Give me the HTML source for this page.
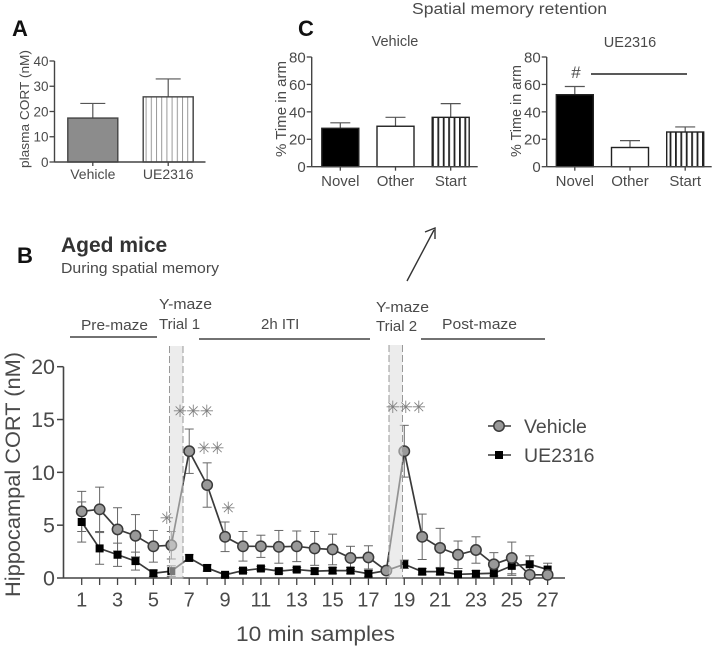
<!DOCTYPE html>
<html lang="en">
<head>
<meta charset="utf-8">
<title>Hippocampal CORT chart</title>
<style>
html,body{margin:0;padding:0;background:#fff;width:714px;height:649px;overflow:hidden}
svg{display:block}
text{font-family:"Liberation Sans",sans-serif;fill:#4a4a4a}
.panel{font-weight:bold;fill:#111;font-size:22px}
.star{font-family:"DejaVu Sans",sans-serif;font-size:17px;fill:#808080;text-anchor:middle;dominant-baseline:central}
</style>
</head>
<body>
<svg id="fig" width="714" height="649" viewBox="0 0 714 649" xmlns="http://www.w3.org/2000/svg">
  <defs>
    <pattern id="hatch-light" width="5.2" height="10" patternUnits="userSpaceOnUse"><rect x="0" y="0" width="1" height="10" fill="#999"/></pattern>
    <pattern id="hatch-dark" width="5.4" height="10" patternUnits="userSpaceOnUse"><rect x="0" y="0" width="1.8" height="10" fill="#222"/></pattern>
  </defs>

  <text class="panel" x="12" y="36">A</text>
  <text class="panel" x="298" y="36">C</text>
  <text class="panel" x="17" y="263">B</text>

  <text transform="translate(29,168) rotate(-90)" font-size="13" textLength="118" lengthAdjust="spacingAndGlyphs">plasma CORT (nM)</text>
  <text x="412" y="14" font-size="15.5" textLength="195" lengthAdjust="spacingAndGlyphs">Spatial memory retention</text>
  <text x="395" y="46" font-size="14.5" text-anchor="middle">Vehicle</text>
  <text x="630" y="47" font-size="14.5" text-anchor="middle">UE2316</text>
  <text transform="translate(286,157) rotate(-90)" font-size="15" textLength="96" lengthAdjust="spacingAndGlyphs">% Time in arm</text>
  <text transform="translate(521,157) rotate(-90)" font-size="15" textLength="92" lengthAdjust="spacingAndGlyphs">% Time in arm</text>
  <text x="576" y="78" font-size="17" text-anchor="middle">#</text>
  <line x1="591" y1="74" x2="687" y2="74" stroke="#222" stroke-width="1.4"/>

  <line x1="407" y1="281" x2="434" y2="230" stroke="#333" stroke-width="1.4"/>
  <polyline points="425,232 435,228 435,239" fill="none" stroke="#333" stroke-width="1.4"/>

  <text x="61" y="252" font-size="21" font-weight="bold" style="fill:#333">Aged mice</text>
  <text x="61" y="273" font-size="14.5" textLength="158" lengthAdjust="spacingAndGlyphs">During spatial memory</text>

  <text x="81" y="330" font-size="15" textLength="67" lengthAdjust="spacingAndGlyphs">Pre-maze</text>
  <line x1="70" y1="337" x2="157" y2="337" stroke="#444" stroke-width="1.4"/>
  <text x="159" y="309" font-size="15" textLength="53" lengthAdjust="spacingAndGlyphs">Y-maze</text>
  <text x="159" y="329" font-size="15">Trial 1</text>
  <text x="261" y="329" font-size="15">2h ITI</text>
  <line x1="199" y1="339" x2="370" y2="339" stroke="#444" stroke-width="1.4"/>
  <text x="376" y="312" font-size="15" textLength="53" lengthAdjust="spacingAndGlyphs">Y-maze</text>
  <text x="376" y="331" font-size="15">Trial 2</text>
  <text x="442" y="329" font-size="15" textLength="75" lengthAdjust="spacingAndGlyphs">Post-maze</text>
  <line x1="421" y1="339" x2="545" y2="339" stroke="#444" stroke-width="1.4"/>

  <text transform="translate(20,597) rotate(-90)" font-size="21" textLength="245" lengthAdjust="spacingAndGlyphs">Hippocampal CORT (nM)</text>
  <text x="236" y="641" font-size="21" textLength="159" lengthAdjust="spacingAndGlyphs">10 min samples</text>

  <g id="panelA"></g>
  <g id="panelC1"></g>
  <g id="panelC2"></g>
  <g id="panelB"></g>

  <g>
    <line x1="488" y1="426" x2="511" y2="426" stroke="#3a3a3a" stroke-width="1.6"/>
    <circle cx="499" cy="426" r="5.2" fill="#999" stroke="#3a3a3a" stroke-width="1.5"/>
    <text x="524" y="433" font-size="19.5">Vehicle</text>
    <line x1="488" y1="455" x2="511" y2="455" stroke="#3a3a3a" stroke-width="1.6"/>
    <rect x="495" y="451" width="8" height="8" fill="#000"/>
    <text x="524" y="462" font-size="19.5">UE2316</text>
  </g>

  <text class="star" x="180" y="412">✳</text>
  <text class="star" x="193.3" y="412">✳</text>
  <text class="star" x="206.7" y="412">✳</text>
  <text class="star" x="204" y="449">✳</text>
  <text class="star" x="217.3" y="449">✳</text>
  <text class="star" x="228.3" y="509">✳</text>
  <text class="star" x="166.7" y="519">✳</text>
  <text class="star" x="392.7" y="408">✳</text>
  <text class="star" x="405.7" y="408">✳</text>
  <text class="star" x="418.7" y="408">✳</text>
</svg>
<script>
// Panel A data
const plasmaGroups = ['Vehicle', 'UE2316'];
const plasmaMeans = [17.4, 25.8];
const plasmaErrors = [5.8, 7.1];
const plasmaTicks = [0, 10, 20, 30, 40];

// Panel C data
const armCategories = ['Novel', 'Other', 'Start'];
const vehicleArmMeans = [28, 29.5, 36];
const vehicleArmErrors = [4, 6.5, 10];
const ue2316ArmMeans = [52.5, 14, 25.3];
const ue2316ArmErrors = [6, 5, 3.7];
const armTicks = [0, 20, 40, 60, 80];

// Panel B data
const samples = [1,2,3,4,5,6,7,8,9,10,11,12,13,14,15,16,17,18,19,20,21,22,23,24,25,26,27];
const vehicleCort = [6.3,6.5,4.6,4.0,3.0,3.1,12,8.8,3.9,3.0,3.0,2.95,3.0,2.8,2.7,1.9,1.95,0.7,12,3.9,2.85,2.2,2.65,1.3,1.9,0.3,0.3];
const vehicleSem = [1.9,2.1,2.05,2.0,1.5,1.3,2.1,2.1,1.4,1.4,1.05,1.55,1.45,1.6,1.45,1.1,1.1,0.3,2.45,2.15,1.85,1.3,1.25,1.1,1.5,0.2,0.25];
const ue2316Cort = [5.3,2.8,2.2,1.6,0.45,0.65,1.9,0.95,0.3,0.7,0.9,0.65,0.8,0.65,0.7,0.7,0.4,0.7,1.3,0.6,0.6,0.35,0.4,0.45,1.15,1.3,0.8];
const ue2316Sem = [1.9,1.5,1.1,0.85,0.3,0.5,0.3,0.3,0.2,0.2,0.2,0.2,0.2,0.3,0.3,0.3,0.3,0.2,0.4,0.3,0.3,0.3,0.3,0.4,0.9,0.8,0.6];
const cortTicks = [0, 5, 10, 15, 20];
const sampleTickLabels = [1,3,5,7,9,11,13,15,17,19,21,23,25,27];

const NS = 'http://www.w3.org/2000/svg';
function make(parent, tag, attrs, txt) {
  const el = document.createElementNS(NS, tag);
  for (const k in attrs) el.setAttribute(k, attrs[k]);
  if (txt !== undefined) el.textContent = txt;
  parent.appendChild(el);
  return el;
}
function label(el, name, active) {
  
  
  return el;
}

function barChart(g, cfg) {
  const y = v => cfg.y0 - (v / cfg.max) * (cfg.y0 - cfg.yTop);
  const barW = cfg.barW;
  cfg.ticks.forEach(t => {
    label(make(g, 'line', {x1: cfg.ax - 5, x2: cfg.ax, y1: y(t), y2: y(t), stroke: '#444', 'stroke-width': 1.3}), 'y-tick', false);
    label(make(g, 'text', {x: cfg.ax - 6, y: y(t) + cfg.font * 0.36, 'font-size': cfg.font, 'text-anchor': 'end'}, t), 'y-tick-label', false);
  });
  cfg.cats.forEach((c, i) => {
    const cx = cfg.first + i * cfg.step;
    const top = y(cfg.vals[i]), errTop = y(cfg.vals[i] + cfg.errs[i]);
    label(make(g, 'line', {x1: cx, x2: cx, y1: top, y2: errTop, stroke: '#555', 'stroke-width': 1.2}), 'error-bar', false);
    label(make(g, 'line', {x1: cx - cfg.cap, x2: cx + cfg.cap, y1: errTop, y2: errTop, stroke: '#555', 'stroke-width': 1.2}), 'error-cap', false);
    const bar = make(g, 'rect', {x: cx - barW / 2, y: top, width: barW, height: cfg.y0 - top, fill: cfg.fills[i], stroke: cfg.barStroke || '#222', 'stroke-width': 1.4});
    label(bar, 'bar-' + c.toLowerCase(), false);
    label(make(g, 'line', {x1: cx, x2: cx, y1: cfg.y0, y2: cfg.y0 + 4, stroke: '#444', 'stroke-width': 1.3}), 'x-tick', false);
    label(make(g, 'text', {x: cx, y: cfg.labelY, 'font-size': cfg.xFont, 'text-anchor': 'middle'}, c), 'x-tick-label', false);
  });
  label(make(g, 'line', {x1: cfg.ax, x2: cfg.ax, y1: cfg.yTop, y2: cfg.y0, stroke: '#444', 'stroke-width': 1.4}), 'y-axis', false);
  label(make(g, 'line', {x1: cfg.ax, x2: cfg.right, y1: cfg.y0, y2: cfg.y0, stroke: '#444', 'stroke-width': 1.4}), 'x-axis', false);
}

barChart(document.getElementById('panelA'), {
  cats: plasmaGroups, vals: plasmaMeans, errs: plasmaErrors, ticks: plasmaTicks, max: 40,
  y0: 162, yTop: 61, ax: 54.5, right: 205.5, first: 92.8, step: 75.4, barW: 50, cap: 12.5,
  fills: ['#8c8c8c', 'url(#hatch-light)'], barStroke: '#444', font: 13.5, xFont: 14, labelY: 179
});
barChart(document.getElementById('panelC1'), {
  cats: armCategories, vals: vehicleArmMeans, errs: vehicleArmErrors, ticks: armTicks, max: 80,
  y0: 166.7, yTop: 57, ax: 311.7, right: 477.7, first: 340.3, step: 55.2, barW: 37, cap: 10,
  fills: ['#000', '#fff', 'url(#hatch-dark)'], font: 15, xFont: 15, labelY: 186
});
barChart(document.getElementById('panelC2'), {
  cats: armCategories, vals: ue2316ArmMeans, errs: ue2316ArmErrors, ticks: armTicks, max: 80,
  y0: 166.7, yTop: 57, ax: 546.7, right: 711.7, first: 574.8, step: 55.2, barW: 37, cap: 10,
  fills: ['#000', '#fff', 'url(#hatch-dark)'], font: 15, xFont: 15, labelY: 186
});

// Panel B
(function () {
  const g = document.getElementById('panelB');
  const xAt = s => 81.7 + (s - 1) * 17.92;
  const yAt = v => 578 - (v / 20) * 211.3;

  cortTicks.forEach(t => {
    label(make(g, 'line', {x1: 57, x2: 63.5, y1: yAt(t), y2: yAt(t), stroke: '#444', 'stroke-width': 1.5}), 'y-tick', false);
    label(make(g, 'text', {x: 55, y: yAt(t) + 7.5, 'font-size': 21.5, 'text-anchor': 'end'}, t), 'y-tick-label', false);
  });
  samples.forEach(s => {
    label(make(g, 'line', {x1: xAt(s), x2: xAt(s), y1: 578, y2: 585, stroke: '#444', 'stroke-width': 1.3}), 'x-tick', false);
  });
  sampleTickLabels.forEach(s => {
    label(make(g, 'text', {x: xAt(s), y: 606.5, 'font-size': 20, 'text-anchor': 'middle'}, s), 'x-tick-label', false);
  });
  label(make(g, 'line', {x1: 63.5, x2: 63.5, y1: yAt(20), y2: 578, stroke: '#444', 'stroke-width': 1.6}), 'y-axis', false);
  label(make(g, 'line', {x1: 63.5, x2: 565, y1: 578, y2: 578, stroke: '#444', 'stroke-width': 1.6}), 'x-axis', false);

  function errors(vals, sems, name) {
    vals.forEach((v, i) => {
      const x = xAt(samples[i]), hi = yAt(v + sems[i]), lo = yAt(Math.max(0, v - sems[i]));
      label(make(g, 'line', {x1: x, x2: x, y1: hi, y2: lo, stroke: '#666', 'stroke-width': 1}), name + '-error-bar', false);
      label(make(g, 'line', {x1: x - 4.5, x2: x + 4.5, y1: hi, y2: hi, stroke: '#666', 'stroke-width': 1}), name + '-error-cap', false);
      label(make(g, 'line', {x1: x - 4.5, x2: x + 4.5, y1: lo, y2: lo, stroke: '#666', 'stroke-width': 1}), name + '-error-cap', false);
    });
  }
  function path(vals, name) {
    const pts = vals.map((v, i) => xAt(samples[i]).toFixed(2) + ',' + yAt(v).toFixed(2)).join(' ');
    label(make(g, 'polyline', {points: pts, fill: 'none', stroke: '#3a3a3a', 'stroke-width': 1.7}), name + '-line', false);
  }
  errors(vehicleCort, vehicleSem, 'vehicle');
  errors(ue2316Cort, ue2316Sem, 'ue2316');
  path(ue2316Cort, 'ue2316');
  path(vehicleCort, 'vehicle');
  ue2316Cort.forEach((v, i) => {
    label(make(g, 'rect', {x: xAt(samples[i]) - 4, y: yAt(v) - 4, width: 8, height: 8, fill: '#000'}), 'ue2316-point', false);
  });
  vehicleCort.forEach((v, i) => {
    label(make(g, 'circle', {cx: xAt(samples[i]), cy: yAt(v), r: 5.2, fill: '#999', stroke: '#3a3a3a', 'stroke-width': 1.5}), 'vehicle-point', false);
  });

  // Y-maze trial bands lie over the series
  [[169.5, 183, 346, 'trial-1-band'], [389, 402.5, 345, 'trial-2-band']].forEach(b => {
    label(make(g, 'rect', {x: b[0], y: b[2], width: b[1] - b[0], height: 579 - b[2], fill: '#dcdcdc', 'fill-opacity': 0.55}), b[3], false);
    label(make(g, 'line', {x1: b[0], x2: b[0], y1: b[2], y2: 579, stroke: '#999', 'stroke-width': 1, 'stroke-dasharray': '7 3'}), b[3] + '-left-edge', false);
    label(make(g, 'line', {x1: b[1], x2: b[1], y1: b[2], y2: 579, stroke: '#999', 'stroke-width': 1, 'stroke-dasharray': '7 3'}), b[3] + '-right-edge', false);
  });
})();
</script>
</body>
</html>
